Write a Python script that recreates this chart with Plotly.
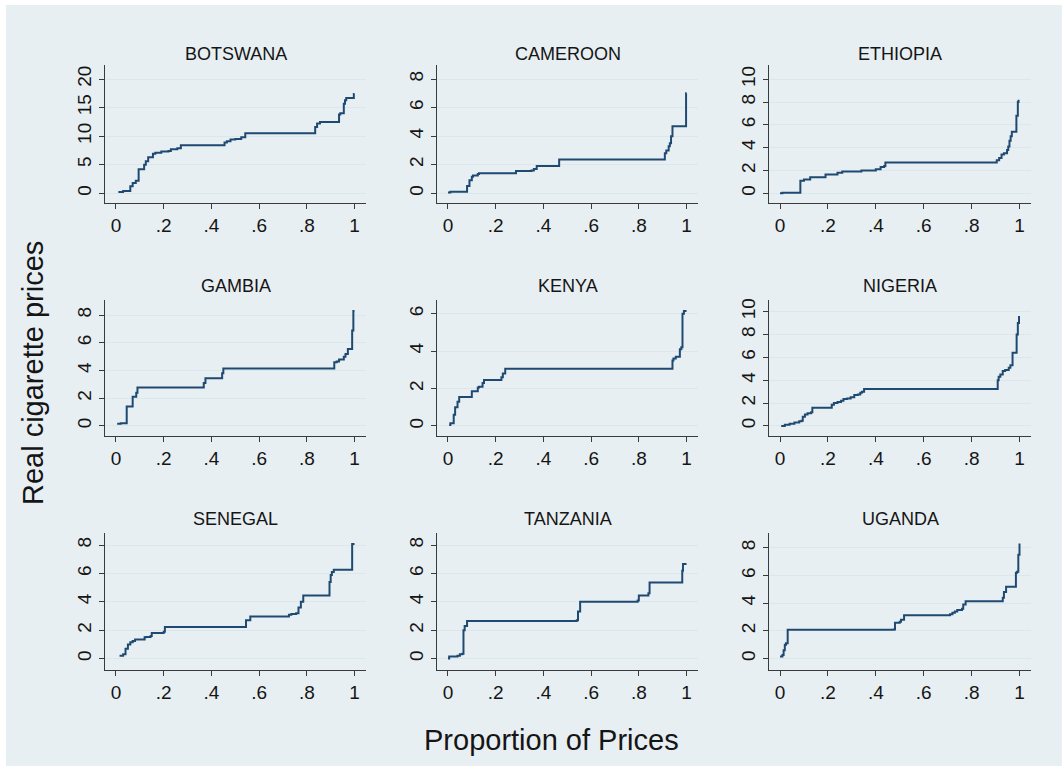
import plotly.graph_objects as go

# ---------------- data (step points: proportion, real price) ----------------
countries = ["BOTSWANA", "CAMEROON", "ETHIOPIA", "GAMBIA", "KENYA", "NIGERIA",
             "SENEGAL", "TANZANIA", "UGANDA"]

botswana_x = [0.01, 0.03, 0.06, 0.07, 0.083, 0.095, 0.118, 0.125, 0.135, 0.155, 0.165, 0.19, 0.22, 0.23, 0.257, 0.272,
              0.455, 0.465, 0.48, 0.5, 0.525, 0.542, 0.835, 0.843, 0.855, 0.935, 0.94, 0.955, 0.96, 0.965, 0.997, 1.0]
botswana_y = [0.2, 0.4, 1.2, 1.8, 2.2, 4.2, 5.0, 5.6, 6.3, 6.9, 7.1, 7.3, 7.4, 7.7, 7.9, 8.4,
              8.9, 9.1, 9.4, 9.5, 9.8, 10.5, 11.6, 12.2, 12.5, 13.8, 14.0, 15.7, 16.3, 16.7, 17.4, 17.4]

cameroon_x = [0.0, 0.01, 0.08, 0.09, 0.1, 0.105, 0.125, 0.13, 0.285, 0.35, 0.36, 0.372, 0.466, 0.909, 0.915,
              0.925, 0.93, 0.935, 0.941, 0.998, 1.0]
cameroon_y = [0.05, 0.1, 0.5, 0.9, 1.15, 1.25, 1.35, 1.4, 1.55, 1.6, 1.7, 1.9, 2.37, 2.8, 3.0,
              3.3, 3.5, 4.0, 4.7, 7.0, 7.0]

ethiopia_x = [0.0, 0.01, 0.085, 0.1, 0.126, 0.19, 0.24, 0.26, 0.34, 0.4, 0.42, 0.435, 0.44, 0.905, 0.915,
              0.925, 0.935, 0.948, 0.953, 0.958, 0.963, 0.968, 0.987, 0.993, 0.996]
ethiopia_y = [0.0, 0.05, 1.1, 1.2, 1.4, 1.65, 1.8, 1.9, 2.0, 2.1, 2.3, 2.4, 2.7, 2.9, 3.1,
              3.4, 3.5, 3.8, 4.1, 4.6, 5.0, 5.4, 6.8, 8.0, 8.2]

gambia_x = [0.005, 0.02, 0.045, 0.065, 0.07, 0.085, 0.09, 0.368, 0.375, 0.445, 0.45, 0.915, 0.925, 0.935,
            0.955, 0.962, 0.972, 0.99, 0.995, 1.0]
gambia_y = [0.15, 0.2, 1.4, 1.4, 2.1, 2.4, 2.77, 3.1, 3.45, 3.8, 4.15, 4.6, 4.65, 4.8,
            5.0, 5.2, 5.55, 6.9, 8.3, 8.3]

kenya_x = [0.005, 0.01, 0.024, 0.03, 0.04, 0.047, 0.1, 0.105, 0.125, 0.13, 0.145, 0.151, 0.224, 0.23, 0.24,
           0.941, 0.945, 0.955, 0.972, 0.978, 0.983, 0.989, 1.0]
kenya_y = [0.05, 0.15, 0.6, 1.0, 1.3, 1.55, 1.85, 1.85, 2.05, 2.1, 2.3, 2.46, 2.6, 2.8, 3.06,
           3.5, 3.6, 3.7, 4.1, 4.2, 6.0, 6.14, 6.14]

nigeria_x = [0.005, 0.02, 0.04, 0.06, 0.08, 0.09, 0.095, 0.104, 0.115, 0.13, 0.135, 0.216, 0.225, 0.24, 0.255,
             0.265, 0.28, 0.295, 0.31, 0.325, 0.335, 0.342, 0.351, 0.909, 0.913, 0.92, 0.93, 0.94, 0.955,
             0.962, 0.971, 0.988, 0.993, 0.998]
nigeria_y = [0.0, 0.1, 0.2, 0.3, 0.4, 0.45, 0.8, 1.0, 1.1, 1.2, 1.6, 1.85, 2.0, 2.1, 2.2,
             2.35, 2.4, 2.5, 2.7, 2.75, 2.9, 3.0, 3.24, 4.0, 4.3, 4.5, 4.8, 4.9, 5.1,
             5.3, 6.41, 8.0, 9.0, 9.62]

senegal_x = [0.015, 0.03, 0.04, 0.05, 0.06, 0.07, 0.08, 0.12, 0.125, 0.145, 0.15, 0.2, 0.205, 0.545, 0.563,
             0.725, 0.735, 0.755, 0.765, 0.775, 0.785, 0.895, 0.9, 0.905, 0.913, 0.99, 1.0]
senegal_y = [0.2, 0.3, 0.7, 1.0, 1.15, 1.25, 1.35, 1.5, 1.52, 1.6, 1.8, 1.9, 2.23, 2.7, 2.97,
             3.1, 3.15, 3.2, 3.6, 4.0, 4.45, 5.4, 5.9, 6.1, 6.27, 8.07, 8.07]

tanzania_x = [0.0, 0.005, 0.04, 0.05, 0.06, 0.065, 0.07, 0.08, 0.54, 0.545, 0.554, 0.795, 0.8, 0.84, 0.845,
              0.982, 0.985, 1.0]
tanzania_y = [0.0, 0.15, 0.2, 0.3, 0.35, 2.0, 2.3, 2.65, 2.7, 3.32, 4.0, 4.1, 4.44, 4.6, 5.36,
              6.2, 6.67, 6.67]

uganda_x = [0.0, 0.01, 0.015, 0.02, 0.025, 0.032, 0.474, 0.48, 0.5, 0.505, 0.518, 0.71, 0.72, 0.73, 0.74,
            0.76, 0.765, 0.775, 0.93, 0.935, 0.944, 0.985, 0.99, 0.995, 1.0]
uganda_y = [0.15, 0.25, 0.6, 1.0, 1.1, 2.07, 2.1, 2.58, 2.65, 2.8, 3.13, 3.2, 3.3, 3.4, 3.5,
            3.6, 3.9, 4.14, 4.4, 4.8, 5.18, 6.2, 6.27, 7.5, 8.31]

series_x = [botswana_x, cameroon_x, ethiopia_x, gambia_x, kenya_x, nigeria_x, senegal_x, tanzania_x, uganda_x]
series_y = [botswana_y, cameroon_y, ethiopia_y, gambia_y, kenya_y, nigeria_y, senegal_y, tanzania_y, uganda_y]

x_tickvals = [0, 0.2, 0.4, 0.6, 0.8, 1]
x_ticktext = ["0", ".2", ".4", ".6", ".8", "1"]
y_ticks = [[0, 5, 10, 15, 20], [0, 2, 4, 6, 8], [0, 2, 4, 6, 8, 10],
           [0, 2, 4, 6, 8], [0, 2, 4, 6], [0, 2, 4, 6, 8, 10],
           [0, 2, 4, 6, 8], [0, 2, 4, 6, 8], [0, 2, 4, 6, 8]]
y_ranges = [[-1.8, 22.5], [-0.72, 9.0], [-0.9, 11.27],
            [-0.72, 9.08], [-0.53, 6.72], [-0.87, 11.0],
            [-0.82, 8.88], [-0.82, 8.88], [-0.85, 9.1]]

x_title = "Proportion of Prices"
y_title = "Real cigarette prices"

# ---------------- layout geometry (pixels) ----------------
W, H = 1062, 766
col_px = [(105, 366), (437, 698), (769, 1031)]
row_px = [(63, 202), (299, 435), (532, 670)]
title_y_px = [52, 285, 518]

BG = "#e8eff2"
NAVY = "#1e4a72"
GRID = "#dce7ec"
AXC = "#3a3a3a"
FONT = "Liberation Sans, Arial, sans-serif"
TXT = "#151515"

fig = go.Figure()
layout = dict(
    width=W, height=H,
    margin=dict(l=0, r=0, t=0, b=0),
    paper_bgcolor="white",
    plot_bgcolor="white",
    showlegend=False,
    font=dict(family=FONT, color=TXT),
    shapes=[dict(type="rect", xref="paper", yref="paper", x0=6 / W, x1=1, y0=0, y1=1 - 3 / H,
                 fillcolor=BG, line=dict(width=0), layer="below")],
    annotations=[],
)

for i, name in enumerate(countries):
    r, c = divmod(i, 3)
    idx = "" if i == 0 else str(i + 1)
    x0p, x1p = col_px[c]
    y0p, y1p = row_px[r]
    fig.add_trace(go.Scatter(
        x=series_x[i], y=series_y[i], mode="lines", line_shape="hv",
        line=dict(color=NAVY, width=2), xaxis="x" + idx, yaxis="y" + idx,
        hoverinfo="skip"))
    layout["xaxis" + idx] = dict(
        domain=[x0p / W, x1p / W], anchor="y" + idx, range=[-0.046, 1.048],
        tickvals=x_tickvals, ticktext=x_ticktext, ticks="outside", ticklen=5,
        tickcolor=AXC, showline=True, linecolor=AXC, linewidth=1,
        showgrid=False, zeroline=False, fixedrange=True,
        tickfont=dict(size=19, family=FONT, color=TXT))
    layout["yaxis" + idx] = dict(
        domain=[1 - y1p / H, 1 - y0p / H], anchor="x" + idx, range=y_ranges[i],
        tickvals=y_ticks[i], ticktext=[str(v) for v in y_ticks[i]], ticks="outside", ticklen=5,
        tickcolor=AXC, showline=True, linecolor=AXC, linewidth=1,
        showgrid=True, gridcolor=GRID, gridwidth=1.3, zeroline=False, fixedrange=True,
        tickangle=-90, tickfont=dict(size=19, family=FONT, color=TXT))
    layout["annotations"].append(dict(
        text=name, xref="paper", yref="paper", x=(x0p + x1p) / 2 / W, y=1 - title_y_px[r] / H,
        showarrow=False, xanchor="center", yanchor="middle",
        font=dict(size=18, family=FONT, color=TXT)))

layout["annotations"].append(dict(
    text=x_title, xref="paper", yref="paper", x=551 / W, y=1 - 740 / H, showarrow=False,
    xanchor="center", yanchor="middle", font=dict(size=29, family=FONT, color=TXT)))
layout["annotations"].append(dict(
    text=y_title, xref="paper", yref="paper", x=33 / W, y=1 - 372 / H, showarrow=False,
    textangle=-90, xanchor="center", yanchor="middle", font=dict(size=29, family=FONT, color=TXT)))

fig.update_layout(**layout)
fig.write_html("out.html", config={"displayModeBar": False},
               post_script="document.body.style.margin='0';document.body.style.overflow='hidden';")
